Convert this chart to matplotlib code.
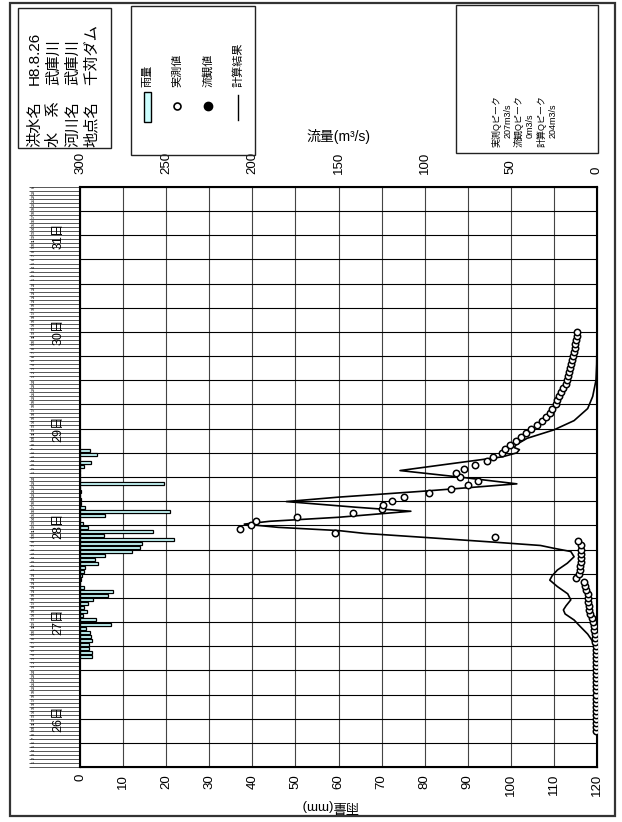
import numpy as np
import matplotlib
matplotlib.use("Agg")
import matplotlib.pyplot as plt
from matplotlib.patches import Rectangle
from matplotlib.lines import Line2D

plt.rcParams['font.family'] = ['Liberation Sans', 'Noto Sans CJK JP']

W, H = 622, 822

# hourly rainfall, hour counted from 26日 0時 (mm)
rain_hour = list(range(27, 79))
rain_mm = [2.9, 2.8, 2.2, 2.0, 2.9, 2.6, 2.3, 1.4, 7.1, 3.7,
           0.6, 1.6, 1.0, 1.9, 3.1, 6.6, 7.6, 0.9, 0.0, 0.3,
           0.5, 0.9, 1.1, 4.2, 3.5, 5.9, 12.1, 14.0, 14.3, 21.8,
           5.5, 17.0, 1.8, 0.6, 0.0, 5.8, 20.9, 1.2, 0.2, 0.3,
           0.0, 0.3, 0.0, 19.6, 0.0, 0.0, 0.0, 1.0, 2.6, 0.0,
           4.0, 2.3]

# observed inflow (m3/s), hourly
obs_hour = list(range(9, 109))
obs_q = [0.5, 0.5, 0.5, 0.5, 0.5, 0.5, 0.5, 0.5, 0.5, 0.5, 0.5,
         0.8, 0.8, 0.8, 0.8, 0.8, 0.8, 0.8, 0.8, 0.8,
         0.7, 0.6, 1.0, 1.2, 1.4, 1.5, 1.6, 2.4, 3.1, 3.8,
         4.5, 4.8, 5.1, 5.3, 5.5, 6.2, 6.9, 7.8, 12.3, 10.4,
         10.0, 9.8, 9.4, 9.2, 9.0, 9.2, 9.4, 11.3, 59.2, 152.0,
         207.0, 200.8, 198.0, 174.0, 141.8, 125.0, 124.0, 118.8, 112.0, 97.7,
         85.0, 74.8, 69.3, 79.3, 81.6, 77.3, 70.9, 64.0, 60.2, 55.3,
         53.3, 50.4, 47.0, 44.0, 41.2, 38.3, 34.7, 31.8, 29.5, 27.4,
         26.0, 24.0, 23.0, 22.0, 20.7, 19.5, 18.2, 17.5, 16.9, 16.3,
         15.7, 15.1, 14.5, 14.0, 13.5, 13.0, 12.6, 12.2, 11.8, 11.4]

# computed inflow
calc_hour = [0, 18, 25, 28, 30, 31.5, 33, 35, 36.5, 38, 39, 40, 41.5, 43,
             44.8, 46.4, 47.5, 48.9, 50.6, 52.2, 53.5, 54.3, 55, 55.8, 57,
             58, 58.7, 59.5, 60.3, 61, 62, 63.5, 64.5, 65.9, 67, 68.5, 70.3,
             72, 73.6, 75, 77, 78, 78.8, 79.3, 80, 81.6, 83.7, 86, 89, 92,
             96, 100, 106]
calc_q = [0, 0.2, 0.5, 0.8, 1.5, 3, 5.4, 10, 13.3, 18.5, 19.5, 18, 15.2, 17,
          23, 27.4, 26, 23, 17.2, 13.3, 15.2, 25, 32.8, 59, 100,
          135, 150, 185, 204.7, 190, 150, 108, 140, 180.3, 150, 100, 46.5,
          80, 114.3, 90, 55, 46.5, 45, 48, 47, 40.6, 25, 13.3, 5.4, 2.5,
          0.6, 0.2, 0]

rain_ticks = list(range(0, 121, 10))
flow_ticks = [300, 250, 200, 150, 100, 50, 0]
day_labels = ['26日', '27日', '28日', '29日', '30日', '31日']

info_keys = ['洪水名', '水　系', '河川名', '地点名']
info_vals = ['H8.8.26', '武庫川', '武庫川', '千苅ダム']
legend_labels = ['雨量', '実測値', '流観値', '計算結果']
peak_lines = ['実測Qピーク', '207m3/s', '流観Qピーク', '0m3/s', '計算Qピーク', '204m3/s']


def fx(x):
    return x / W


def fy(y):
    return 1 - y / H


def box(x0, y0, x1, y1, lw=1.0, ec='#222'):
    fig.add_artist(Rectangle((fx(x0), fy(y1)), (x1 - x0) / W, (y1 - y0) / H,
                             fill=False, ec=ec, lw=lw))


fig = plt.figure(figsize=(W / 100, H / 100), dpi=100)

# outer frame
box(10, 3, 615, 816, lw=1.6, ec='#333')

# main plot: x = rainfall, y = time
ax = fig.add_axes([fx(80), fy(767), (597 - 80) / W, (767 - 187) / H])
ax.barh(np.array(rain_hour) + 0.5, rain_mm, height=0.75, color='#ccffff',
        edgecolor='black', linewidth=0.9, zorder=3)
ax.set_xlim(0, 120)
ax.set_ylim(0, 144)
ax.vlines(rain_ticks[1:-1], 0, 144, color='#444', lw=0.8, zorder=1)
ax.hlines(np.arange(6, 144, 6), 0, 120, color='black', lw=0.8, zorder=1)
for s in ax.spines.values():
    s.set_linewidth(1.5)

ax.set_xticks(rain_ticks)
ax.set_xticklabels([str(v) for v in rain_ticks], rotation=90)
ax.tick_params(axis='x', length=0, pad=5, labelsize=9.5)

# hour strip: one tick per hour with tiny hour labels
hours = np.arange(0, 145)
hour_labels = ['' if h == 0 else ('h' if h == 144 else str((h - 1) % 24 + 1)) for h in hours]
ax.set_yticks(hours)
ax.set_yticklabels(hour_labels, rotation=90, fontsize=2.6)
ax.tick_params(axis='y', length=37, width=0.7, color='#555', pad=-5)

for i, d in enumerate(day_labels):
    ax.text(-0.041, 12 + 24 * i, d, transform=ax.get_yaxis_transform(),
            rotation=90, ha='center', va='center', fontsize=9)

# flow on twin axis
ax2 = ax.twiny()
ax2.set_xlim(300, 0)
ax2.plot(calc_q, calc_hour, color='black', lw=1.2, zorder=4)
ax2.plot(obs_q, obs_hour, 'o', mfc='white', mec='black', ms=4.6, mew=1.1, zorder=5)
ax2.set_xticks(flow_ticks)
ax2.set_xticklabels([str(v) for v in flow_ticks], rotation=90)
ax2.tick_params(axis='x', length=0, pad=9, labelsize=9.5)

fig.text(fx(338), fy(137), '流量(m³/s)', ha='center', va='center', fontsize=10)
fig.text(fx(330), fy(806), '雨量(mm)', ha='center', va='center', fontsize=9.5, rotation=180)

# info box
box(18, 8, 111, 148)
for x, k, v in zip([35, 54, 73, 92], info_keys, info_vals):
    fig.text(fx(x), fy(147), k, rotation=90, rotation_mode='anchor',
             ha='left', va='center', fontsize=11)
    fig.text(fx(x), fy(85), v, rotation=90, rotation_mode='anchor',
             ha='left', va='center', fontsize=11)

# legend box
box(131, 6, 255, 155)
lx = [147, 177, 208, 238]
fig.add_artist(Rectangle((fx(144), fy(122)), 7 / W, 30 / H, fc='#ccffff', ec='black', lw=1))
fig.add_artist(Line2D([fx(lx[1])], [fy(106)], marker='o', mfc='white', mec='black', ms=5, mew=1.2))
fig.add_artist(Line2D([fx(lx[2])], [fy(106)], marker='o', mfc='black', mec='black', ms=6))
fig.add_artist(Line2D([fx(lx[3])] * 2, [fy(95), fy(120)], color='black', lw=1))
for x, t in zip(lx, legend_labels):
    fig.text(fx(x), fy(87), t, rotation=90, rotation_mode='anchor',
             ha='left', va='center', fontsize=8)

# peak box
box(456, 5, 598, 153)
for i, (x, t) in enumerate(zip([497, 508, 519, 530, 542, 553], peak_lines)):
    y0 = 147 if i % 2 == 0 else 138
    fig.text(fx(x), fy(y0), t, rotation=90, rotation_mode='anchor',
             ha='left', va='center', fontsize=6.5)

fig.savefig('out.png', dpi=100)
